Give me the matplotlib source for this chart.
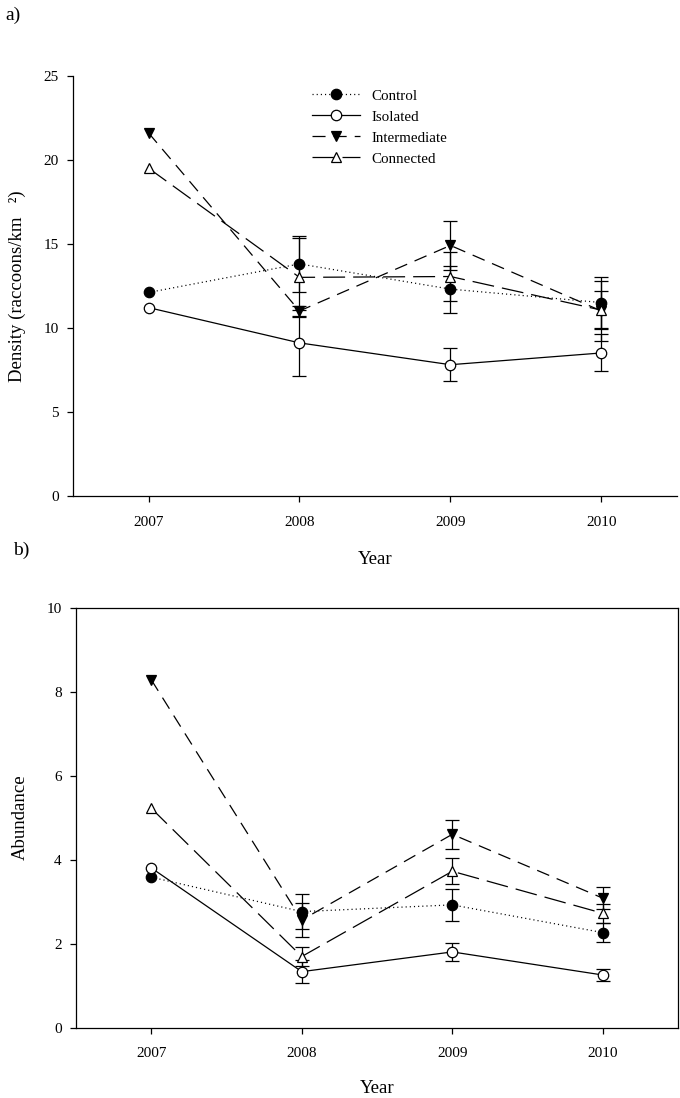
import numpy as np
import matplotlib
matplotlib.use("Agg")
import matplotlib.pyplot as plt

plt.rcParams['font.family'] = ['Liberation Serif', 'DejaVu Serif']
plt.rcParams['lines.scale_dashes'] = False

years = [2007, 2008, 2009, 2010]
groups = ['Control', 'Isolated', 'Intermediate', 'Connected']

# a) density (raccoons/km2), 2007 has no error bars
dens_control = [12.1, 13.8, 12.3, 11.5]
dens_isolated = [11.2, 9.1, 7.8, 8.5]
dens_intermediate = [21.6, 11.0, 14.9, 11.0]
dens_connected = [19.5, 13.0, 13.05, 11.05]
dens_se_control = [0, 1.67, 1.4, 1.5]
dens_se_isolated = [0, 1.95, 0.97, 1.1]
dens_se_intermediate = [0, 0.3, 1.47, 1.8]
dens_se_connected = [0, 2.35, 1.45, 1.15]

# b) abundance
abun_control = [3.58, 2.76, 2.92, 2.26]
abun_isolated = [3.80, 1.33, 1.80, 1.25]
abun_intermediate = [8.28, 2.56, 4.60, 3.08]
abun_connected = [5.22, 1.69, 3.72, 2.72]
abun_se_control = [0, 0.41, 0.38, 0.22]
abun_se_isolated = [0, 0.28, 0.22, 0.14]
abun_se_intermediate = [0, 0.41, 0.34, 0.27]
abun_se_connected = [0, 0.22, 0.31, 0.22]

styles = {
    'Control': dict(marker='o', mfc='k', dashes=(0.8, 2.2)),
    'Isolated': dict(marker='o', mfc='white', dashes=(None, None)),
    'Intermediate': dict(marker='v', mfc='k', dashes=(9.4, 5.8)),
    'Connected': dict(marker='^', mfc='white', dashes=(15.8, 5.8)),
}


def draw_panel(ax, vals, errs):
    for name, v, e in zip(groups, vals, errs):
        st = styles[name]
        ax.errorbar(years[1:], v[1:], yerr=e[1:], fmt='none', ecolor='k',
                    elinewidth=0.9, capsize=5, capthick=0.9, zorder=2)
        line, = ax.plot(years, v, color='k', lw=0.9, marker=st['marker'],
                        ms=7.5, mfc=st['mfc'], mec='k', mew=0.9,
                        label=name, zorder=3)
        if st['dashes'][0] is not None:
            line.set_dashes(st['dashes'])
    ax.set_xlim(2006.5, 2010.5)
    ax.set_xticks(years)
    ax.tick_params(direction='out', length=4.3, width=0.9, labelsize=11)
    ax.tick_params(axis='x', pad=10)
    ax.tick_params(axis='y', pad=6)
    for s in ax.spines.values():
        s.set_linewidth(0.9)


fig = plt.figure(figsize=(6.8, 10.98), dpi=100)
ax1 = fig.add_axes([0.1074, 0.5485, 0.888, 0.3825])
ax2 = fig.add_axes([0.1118, 0.0642, 0.8853, 0.3825])

draw_panel(ax1, [dens_control, dens_isolated, dens_intermediate, dens_connected],
           [dens_se_control, dens_se_isolated, dens_se_intermediate, dens_se_connected])
ax1.set_ylim(0, 25)
ax1.set_yticks([0, 5, 10, 15, 20, 25])
ax1.spines['top'].set_visible(False)
ax1.spines['right'].set_visible(False)
ax1.set_xlabel('Year', fontsize=13.5)
ax1.set_ylabel('Density (raccoons/km   ²)', fontsize=13.5)
ax1.xaxis.set_label_coords(0.5, -0.132)
ax1.yaxis.set_label_coords(-0.078, 0.5)
ax1.legend(loc='upper left', bbox_to_anchor=(0.395, 0.968), frameon=False,
           fontsize=10.8, numpoints=1, handlelength=3.2, handletextpad=0.8,
           labelspacing=0.5, borderpad=0, borderaxespad=0)

draw_panel(ax2, [abun_control, abun_isolated, abun_intermediate, abun_connected],
           [abun_se_control, abun_se_isolated, abun_se_intermediate, abun_se_connected])
ax2.set_ylim(0, 10)
ax2.set_yticks([0, 2, 4, 6, 8, 10])
ax2.set_xlabel('Year', fontsize=13.5)
ax2.set_ylabel('Abundance', fontsize=13.5)
ax2.xaxis.set_label_coords(0.5, -0.125)
ax2.yaxis.set_label_coords(-0.079, 0.5)

fig.text(13 / 680, 1 - 15 / 1098, 'a)', fontsize=14, ha='center', va='center')
fig.text(21.7 / 680, 1 - 550 / 1098, 'b)', fontsize=14, ha='center', va='center')

fig.savefig('out.png', dpi=100)
